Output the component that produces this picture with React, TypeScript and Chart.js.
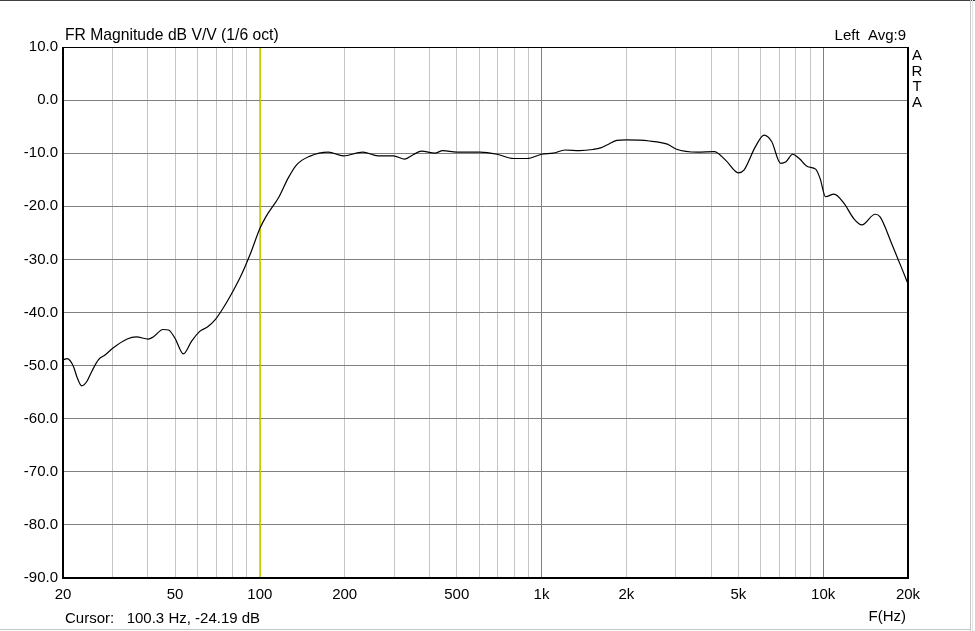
import React, { useEffect, useRef } from "react";
import { Chart, registerables } from "chart.js";

Chart.register(...registerables);

const freqs = [20, 20.7, 21.8, 22.4, 23.3, 24.3, 25.3, 26.7, 28.2, 30.1, 33.8, 36.4, 40.2, 41.8, 45.3, 47.4, 50, 53.5, 57.1, 61, 65.3, 69.3, 74, 80.6, 86, 92.6, 100, 105, 117, 126, 135, 150, 175, 198, 232, 263, 298, 327, 350, 375, 418, 446, 500, 606, 695, 796, 888, 1002, 1100, 1212, 1365, 1520, 1622, 1730, 1850, 2000, 2415, 2796, 3000, 3580, 4100, 4500, 5000, 5230, 5740, 6170, 6560, 7060, 7380, 7790, 8220, 8790, 9400, 9740, 10200, 10920, 11840, 12830, 13710, 15290, 15920, 17490, 18480, 19250, 20000];
const magnitudes = [-48.9, -48.7, -50.2, -52.1, -53.8, -53.0, -51.1, -48.9, -48.0, -46.7, -45.0, -44.6, -45.0, -44.6, -43.2, -43.3, -44.9, -47.8, -45.5, -43.6, -42.7, -41.4, -39.2, -35.8, -32.9, -28.9, -24.2, -22.0, -18.2, -14.7, -12.2, -10.6, -9.8, -10.5, -9.8, -10.5, -10.5, -11.1, -10.3, -9.6, -10.0, -9.5, -9.8, -9.8, -10.2, -11.0, -11.0, -10.2, -10.0, -9.4, -9.5, -9.3, -9.0, -8.3, -7.6, -7.5, -7.7, -8.3, -9.2, -9.8, -9.7, -11.3, -13.7, -13.2, -8.8, -6.6, -7.8, -11.9, -11.6, -10.2, -11.0, -12.5, -13.0, -14.7, -18.2, -17.7, -19.4, -22.3, -23.5, -21.5, -22.0, -27.0, -30.1, -32.4, -34.6];

const gridFreqs = [20, 30, 40, 50, 60, 70, 80, 90, 100, 200, 300, 400, 500, 600, 700, 800, 900, 1000, 2000, 3000, 4000, 5000, 6000, 7000, 8000, 9000, 10000, 20000];
const freqLabels: Record<number, string> = { 20: "20", 50: "50", 100: "100", 200: "200", 500: "500", 1000: "1k", 2000: "2k", 5000: "5k", 10000: "10k", 20000: "20k" };
const decadeFreqs = [1000, 10000];
const cursorFreq = 100;

const titleText = "FR Magnitude dB V/V (1/6 oct)";
const channelText = "Left  Avg:9";
const brandLetters = ["A", "R", "T", "A"];
const cursorText = "Cursor:   100.3 Hz, -24.19 dB";
const axisText = "F(Hz)";

const FONT = "'Liberation Sans', Arial, sans-serif";

export default function App() {
  const ref = useRef<HTMLCanvasElement | null>(null);
  useEffect(() => {
    if (!ref.current) return;
    const decor = {
      id: "decor",
      beforeDraw(chart: any) {
        const c = chart.ctx;
        c.save();
        c.fillStyle = "#ffffff";
        c.fillRect(0, 0, chart.width, chart.height);
        c.fillStyle = "#404040";
        c.fillRect(0, 0, chart.width, 1);
        c.fillStyle = "#c8c8c8";
        c.fillRect(970, 0, 1, chart.height);
        c.fillRect(0, 629, 971, 1);
        c.fillStyle = "#e4e4e4";
        c.fillRect(972, 0, 1, chart.height);
        c.restore();
      },
      beforeDatasetsDraw(chart: any) {
        const c = chart.ctx;
        const a = chart.chartArea;
        const x = Math.round(chart.scales.x.getPixelForValue(cursorFreq));
        c.save();
        c.fillStyle = "#c8cc00";
        c.fillRect(x, a.top, 1, a.bottom - a.top);
        c.restore();
      },
      afterDatasetsDraw(chart: any) {
        const c = chart.ctx;
        const a = chart.chartArea;
        c.save();
        c.fillStyle = "#000000";
        c.fillRect(a.left - 1, a.top, a.right - a.left + 2, 1);
        c.fillRect(a.left - 1, a.top, 2, a.bottom - a.top + 1);
        c.fillRect(a.right - 1, a.top, 2, a.bottom - a.top + 1);
        c.fillRect(a.left - 1, a.bottom - 1, a.right - a.left + 2, 2);
        c.textBaseline = "alphabetic";
        c.textAlign = "left";
        c.font = "15.7px " + FONT;
        c.fillText(titleText, 65, 40);
        c.font = "15px " + FONT;
        c.fillText(cursorText, 65, 623);
        c.textAlign = "right";
        c.fillText(channelText, 906, 40);
        c.fillText(axisText, 906, 621);
        c.textAlign = "center";
        c.textBaseline = "middle";
        brandLetters.forEach((ch, i) => c.fillText(ch, 917, 56 + i * 15.5));
        c.restore();
      },
    };
    const chart = new Chart(ref.current, {
      type: "line",
      data: {
        datasets: [
          {
            data: freqs.map((f, i) => ({ x: f, y: magnitudes[i] })),
            borderColor: "#000000",
            borderWidth: 1.2,
            pointRadius: 0,
            fill: false,
            cubicInterpolationMode: "monotone",
          },
        ],
      },
      options: {
        animation: false,
        responsive: false,
        devicePixelRatio: 1,
        layout: { padding: { left: 0, top: 47, right: 67, bottom: 0 } },
        plugins: { legend: { display: false }, tooltip: { enabled: false }, title: { display: false } },
        scales: {
          x: {
            type: "logarithmic",
            min: 20,
            max: 20000,
            afterBuildTicks: (scale: any) => {
              scale.ticks = gridFreqs.map((v) => ({ value: v }));
            },
            afterFit: (scale: any) => {
              scale.height = 53;
            },
            ticks: {
              autoSkip: false,
              maxRotation: 0,
              minRotation: 0,
              padding: 8,
              color: "#000000",
              font: { family: FONT, size: 15 },
              callback: (v: any) => freqLabels[Number(v)] ?? "",
            },
            grid: {
              drawTicks: false,
              lineWidth: 1,
              color: (ctx: any) => {
                const v = ctx.tick ? Number(ctx.tick.value) : 0;
                if (decadeFreqs.includes(v)) return "#808080";
                return "#c4c4c4";
              },
            },
            border: { display: false },
          },
          y: {
            type: "linear",
            min: -90,
            max: 10,
            afterFit: (scale: any) => {
              scale.width = 63;
            },
            ticks: {
              stepSize: 10,
              padding: 5,
              color: "#000000",
              font: { family: FONT, size: 15 },
              callback: (v: any) => Number(v).toFixed(1),
            },
            grid: { drawTicks: false, lineWidth: 1, color: "#808080" },
            border: { display: false },
          },
        },
      },
      plugins: [decor],
    } as any);
    return () => chart.destroy();
  }, []);
  return (
    <div style={{ position: "absolute", left: 0, top: 0, width: 975, height: 631, background: "#fff" }}>
      <canvas ref={ref} width={975} height={631} style={{ display: "block", width: 975, height: 631 }} />
    </div>
  );
}
